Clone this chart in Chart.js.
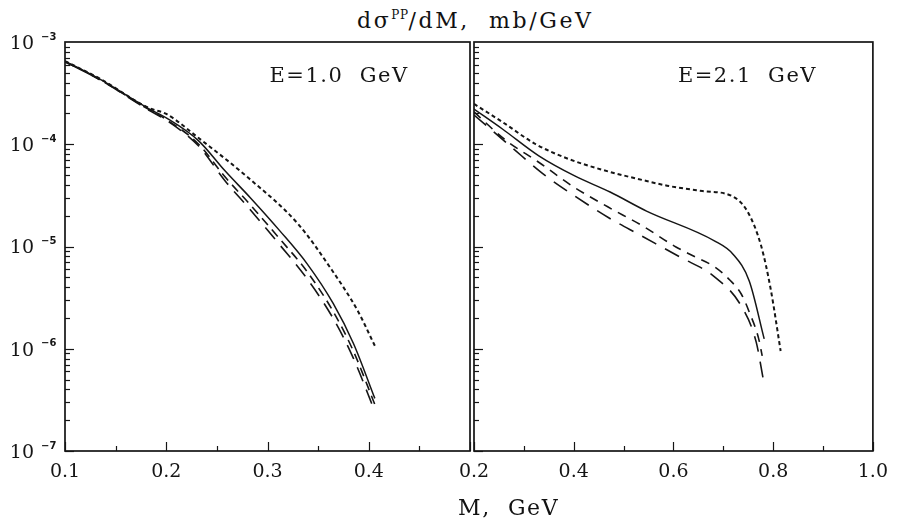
<!DOCTYPE html>
<html>
<head>
<meta charset="utf-8">
<script src="https://cdn.jsdelivr.net/npm/chart.js@4.4.1/dist/chart.umd.min.js"></script>
<style>
  body { margin: 0; background: #fff; }
  #wrap { position: relative; width: 898px; height: 526px; overflow: hidden; font-family: "DejaVu Serif", serif; color: #111; }
  .pane { position: absolute; top: 0; }
  .ttl { position: absolute; left: 357px; top: 8px; font-size: 22px; letter-spacing: 2.6px; white-space: pre; }
  .ttl sup { font-size: 12px; vertical-align: 9px; line-height: 0; letter-spacing: 0.5px; }
  .xl { position: absolute; left: 458px; top: 495px; font-size: 22px; letter-spacing: 1.6px; white-space: pre; }
</style>
</head>
<body>
<div id="wrap">
  <div class="ttl">dσ<sup>PP</sup>/dM,  mb/GeV</div>
  <div class="pane" style="left:0"><canvas id="left" width="480" height="526"></canvas></div>
  <div class="pane" style="left:420px"><canvas id="right" width="478" height="526"></canvas></div>
  <div class="xl">M,  GeV</div>
</div>
<script>
// ---- data ----
// E = 1.0 GeV panel
const leftSolidM = [0.1, 0.134, 0.183, 0.2, 0.232, 0.258, 0.283, 0.312, 0.339, 0.365, 0.385, 0.406]
const leftSolid = [6.5e-4, 4.35e-4, 2.22e-4, 1.81e-4, 1.08e-4, 5.5e-5, 3.0e-5, 1.43e-5, 6.8e-6, 2.76e-6, 1.12e-6, 3.27e-7]
const leftDotM = [0.1, 0.134, 0.183, 0.2, 0.232, 0.281, 0.330, 0.362, 0.389, 0.406]
const leftDot = [6.5e-4, 4.4e-4, 2.26e-4, 1.98e-4, 1.15e-4, 4.7e-5, 1.67e-5, 6.2e-6, 2.36e-6, 1.07e-6]
const leftDashM = [0.1, 0.134, 0.183, 0.2, 0.232, 0.258, 0.283, 0.312, 0.339, 0.365, 0.385, 0.406]
const leftDash = [6.4e-4, 4.3e-4, 2.18e-4, 1.75e-4, 1.0e-4, 4.8e-5, 2.56e-5, 1.19e-5, 5.7e-6, 2.3e-6, 9.4e-7, 2.85e-7]
const leftLongM = [0.1, 0.134, 0.183, 0.2, 0.232, 0.258, 0.283, 0.312, 0.339, 0.365, 0.385, 0.406]
const leftLong = [6.4e-4, 4.3e-4, 2.15e-4, 1.72e-4, 9.6e-5, 4.4e-5, 2.29e-5, 1.04e-5, 4.85e-6, 1.97e-6, 8.0e-7, 2.44e-7]

// E = 2.1 GeV panel
const rightDotM = [0.2, 0.257, 0.324, 0.389, 0.453, 0.546, 0.591, 0.658, 0.717, 0.748, 0.776, 0.795, 0.815]
const rightDot = [2.48e-4, 1.65e-4, 1.0e-4, 7.2e-5, 5.7e-5, 4.37e-5, 3.9e-5, 3.49e-5, 3.12e-5, 2.22e-5, 1.01e-5, 3.84e-6, 9.5e-7]
const rightSolidM = [0.2, 0.257, 0.330, 0.402, 0.473, 0.546, 0.683, 0.719, 0.752, 0.782]
const rightSolid = [2.21e-4, 1.41e-4, 7.7e-5, 4.9e-5, 3.41e-5, 2.22e-5, 1.13e-5, 8.45e-6, 4.6e-6, 1.25e-6]
const rightDashM = [0.2, 0.261, 0.332, 0.400, 0.469, 0.538, 0.605, 0.644, 0.683, 0.713, 0.736, 0.752, 0.771, 0.778]
const rightDash = [2.07e-4, 1.12e-4, 6.56e-5, 3.82e-5, 2.43e-5, 1.59e-5, 9.9e-6, 7.9e-6, 6.3e-6, 4.7e-6, 3.43e-6, 2.29e-6, 1.25e-6, 8.5e-7]
const rightLongM = [0.2, 0.275, 0.336, 0.402, 0.471, 0.532, 0.613, 0.683, 0.736, 0.766, 0.780]
const rightLong = [1.93e-4, 9.4e-5, 5.24e-5, 3.12e-5, 1.90e-5, 1.30e-5, 7.9e-6, 5.03e-6, 2.62e-6, 1.16e-6, 5.06e-7]

const yDecades = [-7, -6, -5, -4, -3]
const panelLabels = ['E=1.0  GeV', 'E=2.1  GeV']

const ink = '#151515'
const serif = '"DejaVu Serif", serif'

const pts = (ms, vs) => ms.map((m, i) => ({ x: m, y: vs[i] }))

function line(data, dash, width) {
  return {
    data: data,
    borderColor: ink,
    borderWidth: width,
    borderDash: dash,
    pointRadius: 0,
    cubicInterpolationMode: 'monotone',
    fill: false
  }
}

// box frame, inward tick marks, 10^n labels and panel caption
const framePlugin = {
  id: 'frame',
  afterDraw(chart, args, opts) {
    const { ctx, chartArea: a, scales: { x, y } } = chart
    ctx.save()
    ctx.strokeStyle = ink
    ctx.fillStyle = ink
    ctx.lineWidth = 1.7
    ctx.strokeRect(a.left, a.top, a.right - a.left, a.bottom - a.top)

    // y ticks along the left edge
    ctx.lineWidth = 1.2
    yDecades.forEach(e => {
      if (e === yDecades[yDecades.length - 1]) return
      for (let m = 1; m < 10; m++) {
        const py = Math.round(y.getPixelForValue(m * Math.pow(10, e))) + 0.5
        const len = m === 1 ? 9 : 5
        ctx.beginPath()
        ctx.moveTo(a.left, py)
        ctx.lineTo(a.left + len, py)
        ctx.stroke()
      }
    })

    // x ticks along the bottom edge
    x.ticks.forEach(t => {
      const px = Math.round(x.getPixelForValue(t.value)) + 0.5
      const q = t.value / opts.major
      const len = Math.abs(q - Math.round(q)) < 1e-6 ? 9 : 5
      ctx.beginPath()
      ctx.moveTo(px, a.bottom)
      ctx.lineTo(px, a.bottom - len)
      ctx.stroke()
    })

    // powers of ten on the y axis
    if (opts.yLabels) {
      yDecades.forEach(e => {
        const py = y.getPixelForValue(Math.pow(10, e))
        ctx.font = '19px ' + serif
        ctx.textAlign = 'right'
        ctx.textBaseline = 'middle'
        ctx.fillText('10', a.left - 31, py + 2)
        ctx.font = 'bold 10px "DejaVu Sans", sans-serif'
        ctx.textAlign = 'left'
        ctx.fillText('\u2212' + (-e), a.left - 24, py - 5)
      })
    }

    // panel caption
    ctx.font = '21px ' + serif
    ctx.letterSpacing = '1.5px'
    ctx.textAlign = 'left'
    ctx.textBaseline = 'middle'
    ctx.fillText(opts.caption, x.getPixelForValue(opts.capX), y.getPixelForValue(opts.capY))
    ctx.restore()
  }
}

function makePanel(id, cfg) {
  return new Chart(document.getElementById(id), {
    type: 'line',
    data: { datasets: cfg.datasets },
    options: {
      responsive: false,
      animation: false,
      events: [],
      layout: { padding: { top: 42, right: cfg.padRight, left: 0, bottom: 0 } },
      plugins: {
        legend: { display: false },
        tooltip: { enabled: false },
        frame: {
          major: cfg.major,
          yLabels: cfg.yLabels,
          caption: cfg.caption,
          capX: cfg.capX,
          capY: 4.6e-4
        }
      },
      scales: {
        x: {
          type: 'linear',
          min: cfg.xMin,
          max: cfg.xMax,
          grid: { display: false, drawTicks: false },
          border: { display: false },
          ticks: {
            stepSize: cfg.step,
            autoSkip: false,
            maxRotation: 0,
            padding: 10,
            color: ink,
            font: { family: serif, size: 19 },
            callback: cfg.tickLabel
          },
          afterFit: s => { s.height = 75 }
        },
        y: {
          type: 'logarithmic',
          min: 1e-7,
          max: 1e-3,
          grid: { display: false },
          border: { display: false },
          ticks: { display: false },
          afterFit: s => { s.width = cfg.yWidth }
        }
      }
    },
    plugins: [framePlugin]
  })
}

const onTenth = v => Math.abs(v * 10 - Math.round(v * 10)) < 1e-6

makePanel('left', {
  datasets: [
    line(pts(leftDotM, leftDot), [4, 3], 2),
    line(pts(leftSolidM, leftSolid), [], 1.5),
    line(pts(leftDashM, leftDash), [9, 6], 1.6),
    line(pts(leftLongM, leftLong), [15, 9], 1.6)
  ],
  xMin: 0.1, xMax: 0.5, step: 0.05, major: 0.1,
  tickLabel: v => (onTenth(v) && v < 0.45) ? v.toFixed(1) : '',
  yWidth: 65, padRight: 6, yLabels: true,
  caption: panelLabels[0], capX: 0.302
})

makePanel('right', {
  datasets: [
    line(pts(rightDotM, rightDot), [4, 3], 2),
    line(pts(rightSolidM, rightSolid), [], 1.5),
    line(pts(rightDashM, rightDash), [9, 7], 1.6),
    line(pts(rightLongM, rightLong), [16, 10], 1.6)
  ],
  xMin: 0.2, xMax: 1.0, step: 0.1, major: 0.2,
  tickLabel: v => Math.abs(v * 5 - Math.round(v * 5)) < 1e-6 ? v.toFixed(1) : '',
  yWidth: 54, padRight: 17, yLabels: false,
  caption: panelLabels[1], capX: 0.609
})
</script>
</body>
</html>
